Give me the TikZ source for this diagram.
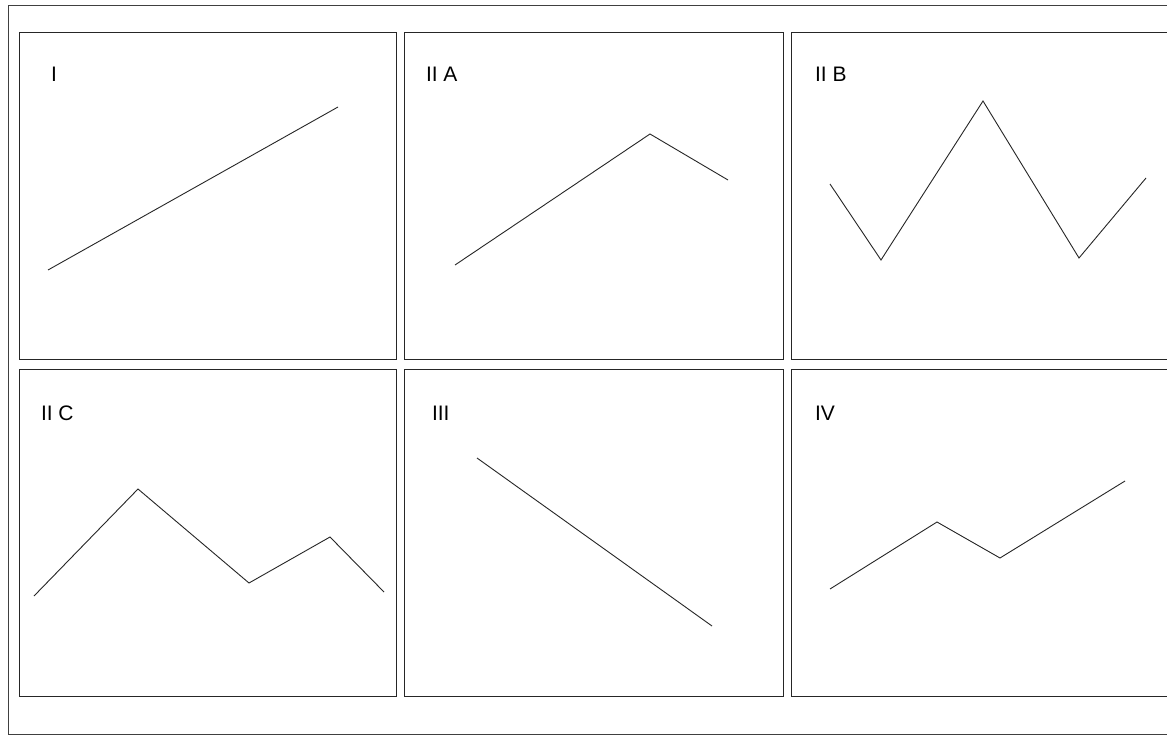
\documentclass[tikz,border=0pt]{standalone}
\usepackage{fontspec}
\setmainfont{Liberation Sans}
\begin{document}
\begin{tikzpicture}[x=1pt,y=-1pt,
  panel/.style={draw=black!85,line width=1pt},
  curve/.style={draw=black!85,line width=0.9pt,line join=miter},
  lbl/.style={anchor=base west,inner sep=0pt,outer sep=0pt,font=\fontsize{21}{25}\selectfont}]
\useasboundingbox (0,0) rectangle (1167,735);
\clip (0,0) rectangle (1167,735);
\fill[white] (0,0) rectangle (1167,735);
% outer frame
\draw[draw=black!75,line width=1pt] (8.5,5.5) rectangle (1190,734);
% panels
\draw[panel] (19.5,33) rectangle (396.5,359);
\draw[panel] (404.5,33) rectangle (783,359);
\draw[panel] (791,33) rectangle (1190,359);
\draw[panel] (19.5,369) rectangle (396.5,696);
\draw[panel] (404.5,369) rectangle (783,696);
\draw[panel] (791,369) rectangle (1190,696);
% labels
\node[lbl] (l1) at (51,82) {I};
\node[lbl] (l2a) at (426,82) {II A};
\node[lbl] (l2b) at (815,82) {II B};
\node[lbl] (l2c) at (41,420) {II C};
\node[lbl] (l3) at (432,420) {III};
\node[lbl] (l4) at (815,420) {IV};
% curves
\draw[curve] (48,270) -- (338,107);
\draw[curve] (455,265) -- (650,134) -- (728,180);
\draw[curve] (830,184) -- (881,260) -- (983,101) -- (1079,258) -- (1146,178);
\draw[curve] (34,596) -- (138,489) -- (249,583) -- (330,537) -- (384,592);
\draw[curve] (477,458) -- (712,626);
\draw[curve] (830,589) -- (937,522) -- (1000,558) -- (1125,481);
\end{tikzpicture}
\end{document}
